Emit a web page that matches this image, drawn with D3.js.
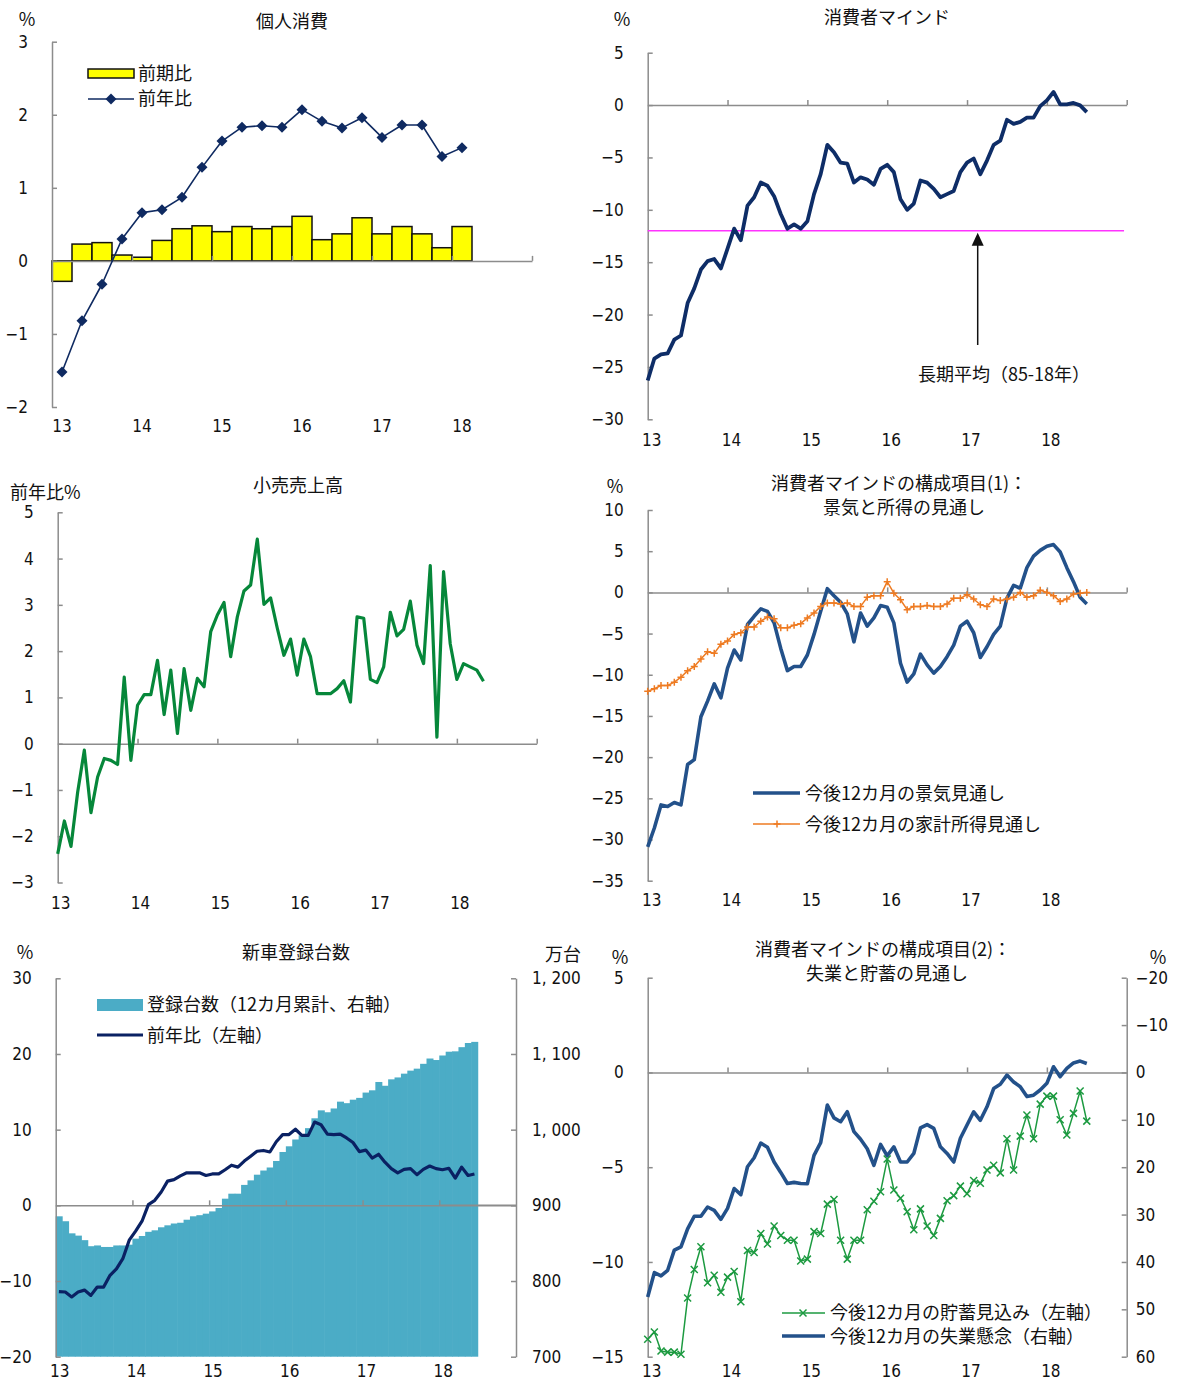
<!DOCTYPE html>
<html>
<head>
<meta charset="utf-8">
<script src="https://cdn.jsdelivr.net/npm/d3@7"></script>
<style>
body { margin: 0; background: #fff; }
svg text { font-family: "Noto Sans CJK JP", sans-serif; fill: #111; font-size: 18px; }
svg .num, svg .tick text { font-family: "Liberation Sans Narrow", "DejaVu Sans Condensed", "Noto Sans CJK JP", sans-serif; font-size: 17px; }
</style>
</head>
<body>
<svg width="1177" height="1382"></svg>
<script>
const yearLabels = ["13", "14", "15", "16", "17", "18"];

// 個人消費 (quarterly, 13Q1-18Q1)
const pcQoq = [-0.28, 0.23, 0.25, 0.08, 0.05, 0.28, 0.44, 0.48, 0.40, 0.47, 0.44, 0.47, 0.61, 0.29, 0.37, 0.59, 0.37, 0.47, 0.37, 0.18, 0.47];
const pcYoy = [-1.52, -0.82, -0.32, 0.30, 0.66, 0.70, 0.87, 1.28, 1.64, 1.83, 1.85, 1.83, 2.07, 1.91, 1.82, 1.96, 1.69, 1.86, 1.86, 1.43, 1.55];

// 消費者マインド (monthly)
const sentiment = [-26.3, -24.2, -23.8, -23.7, -22.4, -22.0, -18.9, -17.5, -15.7, -14.9, -14.7, -15.6, -13.7, -11.8, -12.9, -9.6, -8.8, -7.4, -7.7, -8.7, -10.4, -11.8, -11.4, -11.8, -11.1, -8.5, -6.6, -3.8, -4.5, -5.5, -5.6, -7.4, -6.9, -7.1, -7.6, -6.1, -5.7, -6.4,
  -9.0, -10.0, -9.4, -7.2, -7.4, -8.0, -8.8, -8.5, -8.2, -6.4, -5.5, -5.1, -6.6, -5.3, -3.8, -3.4, -1.4, -1.8, -1.6, -1.2, -1.2, -0.1, 0.45, 1.25, 0.06, 0.06, 0.2, -0.03, -0.67];
const sentimentAvg = -12.0;

// 小売売上高 (monthly, 前年比%)
const retail = [-2.38, -1.67, -2.22, -1.05, -0.14, -1.49, -0.72, -0.32, -0.36, -0.45, 1.44, -0.36, 0.83, 1.06, 1.06, 1.80, 0.63, 1.59, 0.22, 1.62, 0.72, 1.41, 1.23, 2.42, 2.78, 3.05, 1.88, 2.74, 3.30, 3.43, 4.42, 3.01, 3.15, 2.50, 1.91, 2.26, 1.48,
  2.26, 1.88, 1.08, 1.08, 1.08, 1.19, 1.36, 0.90, 2.74, 2.71, 1.39, 1.32, 1.66, 2.84, 2.33, 2.47, 3.08, 2.13, 1.73, 3.85, 0.14, 3.72, 2.16, 1.39, 1.73, 1.66, 1.59, 1.35];

// 構成項目(1)
const econOutlook = [-30.9, -28.6, -25.8, -26.0, -25.5, -25.8, -20.9, -20.3, -15.1, -13.2, -11.1, -12.8, -9.2, -7.0, -8.2, -3.9, -2.9, -2.0, -2.3, -3.7, -6.8, -9.5, -9.0, -9.0, -7.6, -5.1, -2.3, 0.45, -0.4, -1.2, -2.6, -6.0, -2.5, -4.1, -3.1, -1.6, -1.8, -3.7,
  -8.6, -10.9, -9.9, -7.5, -8.8, -9.8, -9.0, -7.8, -6.4, -4.1, -3.5, -4.9, -7.9, -6.6, -5.1, -4.1, -0.7, 0.85, 0.5, 3.0, 4.4, 5.1, 5.6, 5.8, 4.9, 3.0, 1.3, -0.6, -1.4];
const incomeOutlook = [-12.0, -11.7, -11.3, -11.3, -10.9, -10.3, -9.5, -9.0, -8.1, -7.2, -7.4, -6.3, -5.9, -5.1, -4.9, -4.2, -4.2, -3.5, -3.0, -3.2, -4.3, -4.3, -4.0, -3.8, -3.1, -2.5, -1.7, -1.3, -1.3, -1.4, -1.3, -1.7, -1.7, -0.6, -0.4, -0.4, 1.3, -0.1,
  -0.9, -2.1, -1.7, -1.7, -1.6, -1.7, -1.7, -1.4, -0.7, -0.7, -0.3, -0.8, -1.5, -1.7, -0.8, -1.0, -0.8, -0.6, 0.0, -0.6, -0.4, 0.25, 0.0, -0.4, -1.1, -0.8, -0.2, -0.1, 0.0];

// 新車登録台数
const carUnits = [885.5, 879, 863, 860, 854, 846, 847, 845, 845, 847, 847, 848, 856, 859.5, 865, 867, 871, 873.6, 876, 877, 881, 885.5, 887, 889, 892, 896.5, 908.8, 915.4, 915.4, 927,
  933, 940.5, 946, 950, 958.6, 970.5, 978, 987, 992.5, 1002, 1015, 1025.5, 1023, 1028, 1037, 1035, 1039.6, 1042, 1049, 1052, 1063, 1058, 1066.5, 1069, 1074, 1078, 1080.6, 1087, 1094, 1092,
  1098, 1103, 1103.5, 1109, 1114.5, 1116];
const carYoy = [-11.4, -11.45, -12.1, -11.45, -11.2, -11.9, -10.8, -10.8, -9.25, -8.4, -7.05, -4.6, -3.4, -2.1, 0.1, 0.66, 1.76, 3.2, 3.4, 3.9, 4.3, 4.3, 4.3, 3.95, 4.15, 4.15, 4.7, 5.3, 5.05, 5.85,
  6.5, 7.15, 7.25, 7.05, 8.4, 9.35, 9.35, 10.05, 9.25, 9.25, 11.0, 10.65, 9.4, 9.35, 9.4, 8.9, 8.3, 7.1, 7.3, 6.25, 6.75, 5.7, 4.85, 4.3, 4.75, 4.85, 4.05, 4.75, 5.2, 4.85,
  4.7, 4.9, 3.6, 5.05, 3.95, 4.15];

// 構成項目(2)
const savings = [-14.08, -13.7, -14.7, -14.76, -14.76, -14.87, -11.9, -10.4, -9.2, -11.1, -10.7, -11.6, -10.8, -10.5, -12.1, -9.4, -9.5, -8.5, -9.05, -8.1, -8.6, -8.85, -8.85, -9.95, -9.85, -8.4, -8.5, -6.95, -6.7, -8.85, -9.85, -8.85, -8.85, -7.25, -6.8, -6.3, -4.57, -6.2,
  -6.64, -7.35, -8.3, -7.2, -8.1, -8.6, -7.7, -6.77, -6.5, -6.0, -6.4, -5.7, -5.85, -5.15, -4.9, -5.3, -3.5, -5.15, -3.36, -2.25, -3.5, -1.67, -1.25, -1.25, -2.5, -3.3, -2.16, -0.98, -2.57];
const jobFear = [47.4, 42.25, 42.96, 41.76, 37.5, 36.8, 33.0, 30.35, 30.35, 28.4, 29.1, 31.0, 28.7, 24.5, 25.8, 19.9, 18.0, 14.9, 15.8, 18.9, 21.1, 23.45, 23.2, 23.45, 23.5, 17.5, 14.8, 6.9, 9.6, 10.4, 8.3, 12.5, 14.1, 16.1, 19.6, 15.2, 17.6, 15.7,
  18.9, 18.9, 17.1, 11.7, 11.0, 11.8, 15.7, 17.1, 18.9, 13.9, 11.1, 8.3, 10.1, 7.25, 3.4, 2.5, 0.56, 2.0, 3.0, 5.1, 4.8, 3.7, 2.3, -1.2, 0.9, -0.85, -2.0, -2.4, -1.9];

const svg = d3.select("svg");
const axisColor = "#8c8c8c";

function styleAxis(g) {
    g.select(".domain").attr("stroke", axisColor).attr("stroke-width", 1.5);
    g.selectAll(".tick line").attr("stroke", axisColor).attr("stroke-width", 1.5);
}

function leftAxis(y, xPos, ticks, fmt) {
    const g = svg.append("g")
        .attr("transform", `translate(${xPos},0)`)
        .call(d3.axisLeft(y).tickValues(ticks).tickSizeInner(-5).tickSizeOuter(0)
            .tickPadding(24).tickFormat(fmt || d3.format("d")));
    styleAxis(g);
    return g;
}

function rightAxis(y, xPos, ticks, fmt, pad) {
    const g = svg.append("g")
        .attr("transform", `translate(${xPos},0)`)
        .call(d3.axisRight(y).tickValues(ticks).tickSizeInner(-5).tickSizeOuter(0)
            .tickPadding(pad).tickFormat(fmt || d3.format("d")));
    styleAxis(g);
    return g;
}

function bottomAxis(x, yPos, ticks) {
    const g = svg.append("g")
        .attr("transform", `translate(0,${yPos})`)
        .call(d3.axisBottom(x).tickValues(ticks).tickSizeInner(-5).tickSizeOuter(0).tickFormat(""));
    styleAxis(g);
    return g;
}

function yearText(posFn, yPos) {
    svg.append("g").selectAll("text")
        .data(yearLabels)
        .enter()
        .append("text")
        .attr("class", "num")
        .attr("x", (d, i) => posFn(i))
        .attr("y", yPos)
        .attr("dy", "0.35em")
        .attr("text-anchor", "middle")
        .text(d => d);
}

function label(x, y, txt, anchor, cls) {
    return svg.append("text")
        .attr("x", x).attr("y", y).attr("dy", "0.35em")
        .attr("text-anchor", anchor || "start")
        .attr("class", cls || null)
        .text(txt);
}

function drawLine(data, x, y, color, width) {
    svg.append("path")
        .datum(data)
        .attr("fill", "none")
        .attr("stroke", color)
        .attr("stroke-width", width)
        .attr("stroke-linejoin", "round")
        .attr("d", d3.line().x((d, i) => x(i)).y(d => y(d)));
}

function drawMarkers(data, x, y, path, fill, stroke) {
    svg.append("g").selectAll("path")
        .data(data)
        .enter()
        .append("path")
        .attr("transform", (d, i) => `translate(${x(i)},${y(d)})`)
        .attr("d", path)
        .attr("fill", fill)
        .attr("stroke", stroke)
        .attr("stroke-width", 1.5);
}

const diamond = "M0,-5.5L5.5,0L0,5.5L-5.5,0Z";
const plus = "M-3.5,0H3.5M0,-3.5V3.5";
const cross = "M-3.5,-3.5L3.5,3.5M-3.5,3.5L3.5,-3.5";

// ---------- 1. 個人消費 ----------
{
    const xq = d3.scaleLinear().domain([0, 24]).range([52, 532]);
    const y = d3.scaleLinear().domain([-2, 3]).range([407, 41.7]);

    svg.append("g").selectAll("rect")
        .data(pcQoq)
        .enter()
        .append("rect")
        .attr("x", (d, i) => xq(i))
        .attr("y", d => y(Math.max(0, d)))
        .attr("width", xq(1) - xq(0))
        .attr("height", d => Math.abs(y(d) - y(0)))
        .attr("fill", "#ffff00")
        .attr("stroke", "#111")
        .attr("stroke-width", 1.5);

    leftAxis(y, 52, [-2, -1, 0, 1, 2, 3]);
    bottomAxis(xq, y(0), [4, 8, 12, 16, 20, 24]);

    const xc = i => xq(i + 0.5);
    drawLine(pcYoy, xc, y, "#0f2a61", 1.6);
    drawMarkers(pcYoy, xc, y, diamond, "#0f2a61", "none");

    yearText(i => xq(i * 4 + 0.5), 426);
    label(292, 22, "個人消費", "middle");
    label(27, 20, "%", "middle");

    svg.append("rect").attr("x", 88).attr("y", 69).attr("width", 46).attr("height", 9)
        .attr("fill", "#ffff00").attr("stroke", "#111").attr("stroke-width", 1.5);
    label(138, 74, "前期比");
    svg.append("line").attr("x1", 88).attr("x2", 134).attr("y1", 99).attr("y2", 99)
        .attr("stroke", "#0f2a61").attr("stroke-width", 1.6);
    svg.append("path").attr("transform", "translate(111,99)").attr("d", diamond).attr("fill", "#0f2a61");
    label(138, 99, "前年比");
}

// ---------- 2. 消費者マインド ----------
{
    const x = d3.scaleLinear().domain([0, 72]).range([647.7, 1126.7]);
    const y = d3.scaleLinear().domain([-30, 5]).range([419.3, 52.7]);

    leftAxis(y, 647.7, d3.range(-30, 6, 5));
    bottomAxis(x, y(0), [12, 24, 36, 48, 60, 72]);

    svg.append("line")
        .attr("x1", x(0)).attr("x2", x(71.6))
        .attr("y1", y(sentimentAvg)).attr("y2", y(sentimentAvg))
        .attr("stroke", "#ff33ff").attr("stroke-width", 1.5);

    drawLine(sentiment, x, y, "#0e2d67", 3.8);

    yearText(i => x(i * 12) + 4, 440);
    label(887, 18, "消費者マインド", "middle");
    label(622, 20, "%", "middle");

    const ax = 977.7, tip = y(sentimentAvg) + 2;
    svg.append("line").attr("x1", ax).attr("x2", ax).attr("y1", 345).attr("y2", tip + 12)
        .attr("stroke", "#111").attr("stroke-width", 1.5);
    svg.append("path")
        .attr("d", `M${ax - 6},${tip + 13}L${ax + 6},${tip + 13}L${ax},${tip}Z`)
        .attr("fill", "#111");
    label(1004, 375, "長期平均（85-18年）", "middle");
}

// ---------- 3. 小売売上高 ----------
{
    const x = d3.scaleLinear().domain([0, 72]).range([57.7, 536.7]);
    const y = d3.scaleLinear().domain([-3, 5]).range([882.5, 512.3]);

    leftAxis(y, 57.7, d3.range(-3, 6, 1));
    bottomAxis(x, y(0), [12, 24, 36, 48, 60, 72]);

    drawLine(retail, x, y, "#06873a", 3.2);

    yearText(i => x(i * 12) + 3, 903);
    label(298, 486, "小売売上高", "middle");
    label(10, 493, "前年比%");
}

// ---------- 4. 構成項目(1) ----------
{
    const x = d3.scaleLinear().domain([0, 72]).range([647.7, 1126.7]);
    const y = d3.scaleLinear().domain([-35, 10]).range([880.7, 510]);

    leftAxis(y, 647.7, d3.range(-35, 11, 5));
    bottomAxis(x, y(0), [12, 24, 36, 48, 60, 72]);

    drawLine(econOutlook, x, y, "#23518a", 3.6);
    drawLine(incomeOutlook, x, y, "#ee7b22", 1.5);
    drawMarkers(incomeOutlook, x, y, plus, "none", "#ee7b22");

    yearText(i => x(i * 12) + 4, 900);
    label(615, 487, "%", "middle");
    label(899, 484, "消費者マインドの構成項目(1)：", "middle");
    label(904, 508, "景気と所得の見通し", "middle");

    svg.append("line").attr("x1", 753).attr("x2", 800).attr("y1", 793).attr("y2", 793)
        .attr("stroke", "#23518a").attr("stroke-width", 3.6);
    label(805, 794, "今後12カ月の景気見通し");
    svg.append("line").attr("x1", 753).attr("x2", 800).attr("y1", 824).attr("y2", 824)
        .attr("stroke", "#ee7b22").attr("stroke-width", 1.5);
    svg.append("path").attr("transform", "translate(777,824)").attr("d", plus)
        .attr("stroke", "#ee7b22").attr("stroke-width", 1.5);
    label(805, 825, "今後12カ月の家計所得見通し");
}

// ---------- 5. 新車登録台数 ----------
{
    const x = d3.scaleLinear().domain([0, 72]).range([55.7, 516]);
    const yL = d3.scaleLinear().domain([-20, 30]).range([1356.7, 978.3]);
    const yR = d3.scaleLinear().domain([700, 1200]).range([1356.7, 978.3]);

    svg.append("g").selectAll("rect")
        .data(carUnits)
        .enter()
        .append("rect")
        .attr("x", (d, i) => x(i))
        .attr("y", d => yR(d))
        .attr("width", x(1) - x(0) + 0.6)
        .attr("height", d => yR(700) - yR(d))
        .attr("fill", "#4bacc6");

    leftAxis(yL, 55.7, d3.range(-20, 31, 10));
    rightAxis(yR, 516, d3.range(700, 1201, 100),
        d => d >= 1000 ? Math.floor(d / 1000) + ", " + String(d % 1000).padStart(3, "0") : String(d), 16);
    bottomAxis(x, yL(0), [12, 24, 36, 48, 60]);
    svg.append("line").attr("x1", x(60)).attr("x2", 516).attr("y1", yL(0)).attr("y2", yL(0))
        .attr("stroke", axisColor).attr("stroke-width", 1.5);

    drawLine(carYoy, i => x(i + 0.5), yL, "#0a2163", 3.2);

    yearText(i => x(i * 12) + 4, 1371);
    label(25, 953, "%", "middle");
    label(296, 953, "新車登録台数", "middle");
    label(563, 955, "万台", "middle");

    svg.append("rect").attr("x", 97).attr("y", 999).attr("width", 46).attr("height", 12).attr("fill", "#4bacc6");
    label(147, 1005, "登録台数（12カ月累計、右軸）");
    svg.append("line").attr("x1", 97).attr("x2", 143).attr("y1", 1035).attr("y2", 1035)
        .attr("stroke", "#0a2163").attr("stroke-width", 3.2);
    label(147, 1036, "前年比（左軸）");
}

// ---------- 6. 構成項目(2) ----------
{
    const x = d3.scaleLinear().domain([0, 72]).range([647.7, 1126.7]);
    const yL = d3.scaleLinear().domain([-15, 5]).range([1356.7, 977.7]);
    const yR = d3.scaleLinear().domain([60, -20]).range([1356.7, 977.7]);

    leftAxis(yL, 647.7, d3.range(-15, 6, 5));
    rightAxis(yR, 1126.7, d3.range(-20, 61, 10), d3.format("d"), 9);
    bottomAxis(x, yL(0), [12, 24, 36, 48, 60]);

    drawLine(jobFear, x, yR, "#23518a", 3.6);
    drawLine(savings, x, yL, "#1c9a40", 1.5);
    drawMarkers(savings, x, yL, cross, "none", "#1c9a40");

    yearText(i => x(i * 12) + 4, 1371);
    label(620, 958, "%", "middle");
    label(1158, 958, "%", "middle");
    label(883, 950, "消費者マインドの構成項目(2)：", "middle");
    label(887, 974, "失業と貯蓄の見通し", "middle");

    svg.append("line").attr("x1", 782).attr("x2", 825).attr("y1", 1313).attr("y2", 1313)
        .attr("stroke", "#1c9a40").attr("stroke-width", 1.5);
    svg.append("path").attr("transform", "translate(803,1313)").attr("d", cross)
        .attr("stroke", "#1c9a40").attr("stroke-width", 1.5);
    label(830, 1313, "今後12カ月の貯蓄見込み（左軸）");
    svg.append("line").attr("x1", 782).attr("x2", 825).attr("y1", 1336).attr("y2", 1336)
        .attr("stroke", "#23518a").attr("stroke-width", 3.6);
    label(830, 1337, "今後12カ月の失業懸念（右軸）");
}
</script>
</body>
</html>
